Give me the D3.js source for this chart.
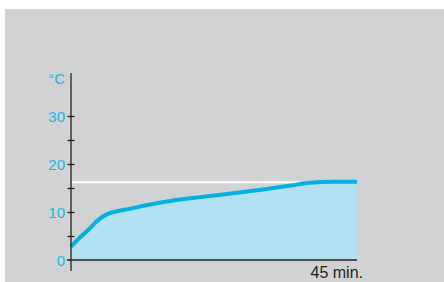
<!DOCTYPE html>
<html><head><meta charset="utf-8">
<script src="https://cdn.jsdelivr.net/npm/d3@7"></script>
<style>html,body{margin:0;padding:0;background:#fff;}svg{display:block;}</style>
</head><body>
<svg id="c" width="444" height="282"></svg>
<script>
const minutes = [0, 1.1, 2.7, 4.25, 5.8, 7.4, 9.0, 11.8, 15.1, 20.3, 25.5, 30.8, 34.5, 37.6, 41.2, 45];
const temps   = [2.8, 4.3, 6.25, 8.3, 9.6, 10.2, 10.6, 11.4, 12.2, 13.1, 13.9, 14.8, 15.5, 16.1, 16.3, 16.3];
const yTicks = [0, 10, 20, 30];
const yMinorTicks = [5, 15, 25];
const referenceTemp = [16.2];
const unitLabel = ["°C"];
const xLabel = ["45 min."];

const svg = d3.select("#c");
svg.append("rect").attr("x",5).attr("y",9).attr("width",439).attr("height",273).attr("fill","#d1d2d4");

const x = d3.scaleLinear().domain([0,45]).range([71,357]);
const y = d3.scaleLinear().domain([0,10]).range([260,212]);

const data = minutes.map((m,i)=>({m, t:temps[i]}));
const curve = d3.curveMonotoneX;

svg.append("path").datum(data)
  .attr("d", d3.area().x(d=>x(d.m)).y0(y(0)).y1(d=>y(d.t)).curve(curve))
  .attr("fill","#b2e1f2");

// reference white line
svg.append("line").attr("x1",x(0)+1).attr("x2",x(36)).attr("y1",y(referenceTemp[0])).attr("y2",y(referenceTemp[0]))
  .attr("stroke","#ffffff").attr("stroke-width",2);

svg.append("path").datum(data)
  .attr("d", d3.line().x(d=>x(d.m)).y(d=>y(d.t)).curve(curve))
  .attr("fill","none").attr("stroke","#00b1e1").attr("stroke-width",4).attr("stroke-linecap","butt");

// axes
const ax = "#231f20";
svg.append("line").attr("x1",x(0)).attr("x2",x(0)).attr("y1",73).attr("y2",271).attr("stroke",ax).attr("stroke-width",1.3);
svg.append("line").attr("x1",67).attr("x2",x(45)).attr("y1",y(0)).attr("y2",y(0)).attr("stroke",ax).attr("stroke-width",1.3);

const yAxis = d3.axisLeft(y).tickValues(yTicks.concat(yMinorTicks)).tickSize(0).tickFormat("");
const g = svg.append("g").attr("transform",`translate(${x(0)},0)`).call(yAxis);
g.select(".domain").remove();
g.selectAll(".tick").filter(d=>d!==0).append("line").attr("x1",-3.5).attr("x2",3.5).attr("stroke",ax).attr("stroke-width",1.3);

svg.selectAll("text.yl").data(yTicks).enter().append("text")
  .attr("x",65).attr("y",d=>y(d)+5.5).attr("text-anchor","end")
  .attr("font-family","Liberation Sans, Arial, sans-serif").attr("font-size",15)
  .attr("fill","#1cb5e6").text(d=>d);

svg.append("text").attr("x",65).attr("y",84).attr("text-anchor","end")
  .attr("font-family","Liberation Sans, Arial, sans-serif").attr("font-size",15)
  .attr("fill","#1cb5e6").text(unitLabel[0]);

svg.append("text").attr("x",363).attr("y",278).attr("text-anchor","end")
  .attr("font-family","Liberation Sans, Arial, sans-serif").attr("font-size",16)
  .attr("fill","#231f20").text(xLabel[0]);
</script>
</body></html>
